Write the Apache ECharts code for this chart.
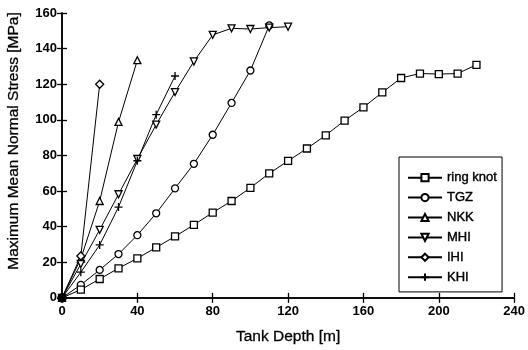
<!DOCTYPE html>
<html>
<head>
<meta charset="utf-8">
<script src="https://cdn.jsdelivr.net/npm/echarts@6/dist/echarts.min.js"></script>
<style>html,body{margin:0;padding:0;background:#fff}#c{width:528px;height:350px}</style>
</head>
<body>
<div id="c"></div>
<script>
const ringKnot = [[0,0],[10,4.6],[20,10.6],[30,16.6],[40,22.2],[50,28.3],[60,34.5],[70,41],[80,47.9],[90,54.4],[100,61.8],[110,69.9],[120,76.9],[130,83.9],[140,91.3],[150,99.6],[160,107],[170,115.4],[180,123.5],[190,126],[200,125.7],[210,126],[220,130.9]];
const tgz = [[0,0],[10,7.3],[20,15.7],[30,24.6],[40,35.2],[50,47.5],[60,61.5],[70,75.3],[80,91.6],[90,109.5],[100,127.7],[110,153]];
const nkk = [[0,0],[10,22],[20,54.4],[30,98.8],[40,133.5]];
const mhi = [[0,0],[10,19],[20,38.2],[30,58.2],[40,78],[50,97.3],[60,115.6],[70,132.8],[80,147.7],[90,151.4],[100,151],[110,151.8],[120,152.3]];
const ihi = [[0,0],[10,23.5],[20,120]];
const khi = [[0,0],[10,14.4],[20,29.7],[30,51],[40,77],[50,102.9],[60,124.6]];
const seriesNames = ['ring knot','TGZ','NKK','MHI','IHI','KHI'];
const xTicks = {min:0,max:240,interval:40};
const yTicks = {min:0,max:160,interval:20};
const xTitle = 'Tank Depth [m]';
const yTitle = 'Maximum Mean Normal Stress [MPa]';

const symbols = {
  'ring knot':'rect',
  'TGZ':'circle',
  'NKK':'path://M5,0L10,9L0,9Z',
  'MHI':'path://M0,0L10,0L5,9Z',
  'IHI':'diamond',
  'KHI':'path://M5,0L5,10M0,5L10,5'
};
const dataMap = {'ring knot':ringKnot,'TGZ':tgz,'NKK':nkk,'MHI':mhi,'IHI':ihi,'KHI':khi};
const font = 'Liberation Sans, Arial, sans-serif';

const series = seriesNames.map((n, si) => ({
  name:n, type:'line',
  data:dataMap[n].map((p, i) => (i === 0 && si === 0)
    ? {value:p, symbol:'circle', symbolSize:8, itemStyle:{color:'#000'}} : p),
  symbol:symbols[n], symbolSize: (n==='KHI'||n==='IHI')?8:7,
  showAllSymbol:true,
  z: si===0 ? 5 : 2,
  lineStyle:{color:'#000',width:1},
  itemStyle:{color:'#fff',borderColor:'#000',borderWidth:1.3},
  emphasis:{disabled:true},
  animation:false
}));

const chart = echarts.init(document.getElementById('c'));
const axisCommon = {
  axisLine:{show:true,lineStyle:{color:'#000',width:1.5}},
  axisTick:{show:true,inside:true,length:5,lineStyle:{color:'#000',width:1.3}},
  splitLine:{show:false},
  axisLabel:{color:'#000',fontFamily:font,fontSize:13,fontWeight:'bold'}
};
chart.setOption({
  animation:false,
  backgroundColor:'#fff',
  grid:{left:62,right:10,top:13,bottom:51,containLabel:false},
  xAxis:[
    Object.assign({type:'value',position:'bottom',name:xTitle,nameLocation:'middle',nameGap:31,
      nameTextStyle:{color:'#000',fontFamily:font,fontSize:15.5,textBorderColor:'#000',textBorderWidth:0.3},
      min:xTicks.min,max:xTicks.max,interval:xTicks.interval},axisCommon,
      {axisLabel:Object.assign({},axisCommon.axisLabel,{margin:7})}),
    Object.assign({type:'value',position:'top',min:xTicks.min,max:xTicks.max,interval:xTicks.interval},axisCommon,{axisLabel:{show:false}})
  ],
  yAxis:[
    Object.assign({type:'value',position:'left',
      min:yTicks.min,max:yTicks.max,interval:yTicks.interval},axisCommon,
      {axisLabel:Object.assign({},axisCommon.axisLabel,{margin:5})}),
    Object.assign({type:'value',position:'right',min:yTicks.min,max:yTicks.max,interval:yTicks.interval},axisCommon,{axisLabel:{show:false}})
  ],
  graphic:[{
    type:'text', x:14, y:141, rotation:Math.PI/2,
    style:{text:yTitle, fill:'#000', font:'15.5px Liberation Sans, Arial, sans-serif',
      align:'center', verticalAlign:'middle', stroke:'#000', lineWidth:0.3}
  }],
  legend:{
    data:seriesNames, orient:'vertical', left:399, top:157,
    padding:[14,5,8,8], itemGap:6.5, itemWidth:34, itemHeight:9,
    borderColor:'#000', borderWidth:1, backgroundColor:'#fff',
    textStyle:{color:'#000',fontFamily:font,fontSize:13,textBorderColor:'#000',textBorderWidth:0.4},
    selectedMode:false
  },
  series:series
});
</script>
</body>
</html>
